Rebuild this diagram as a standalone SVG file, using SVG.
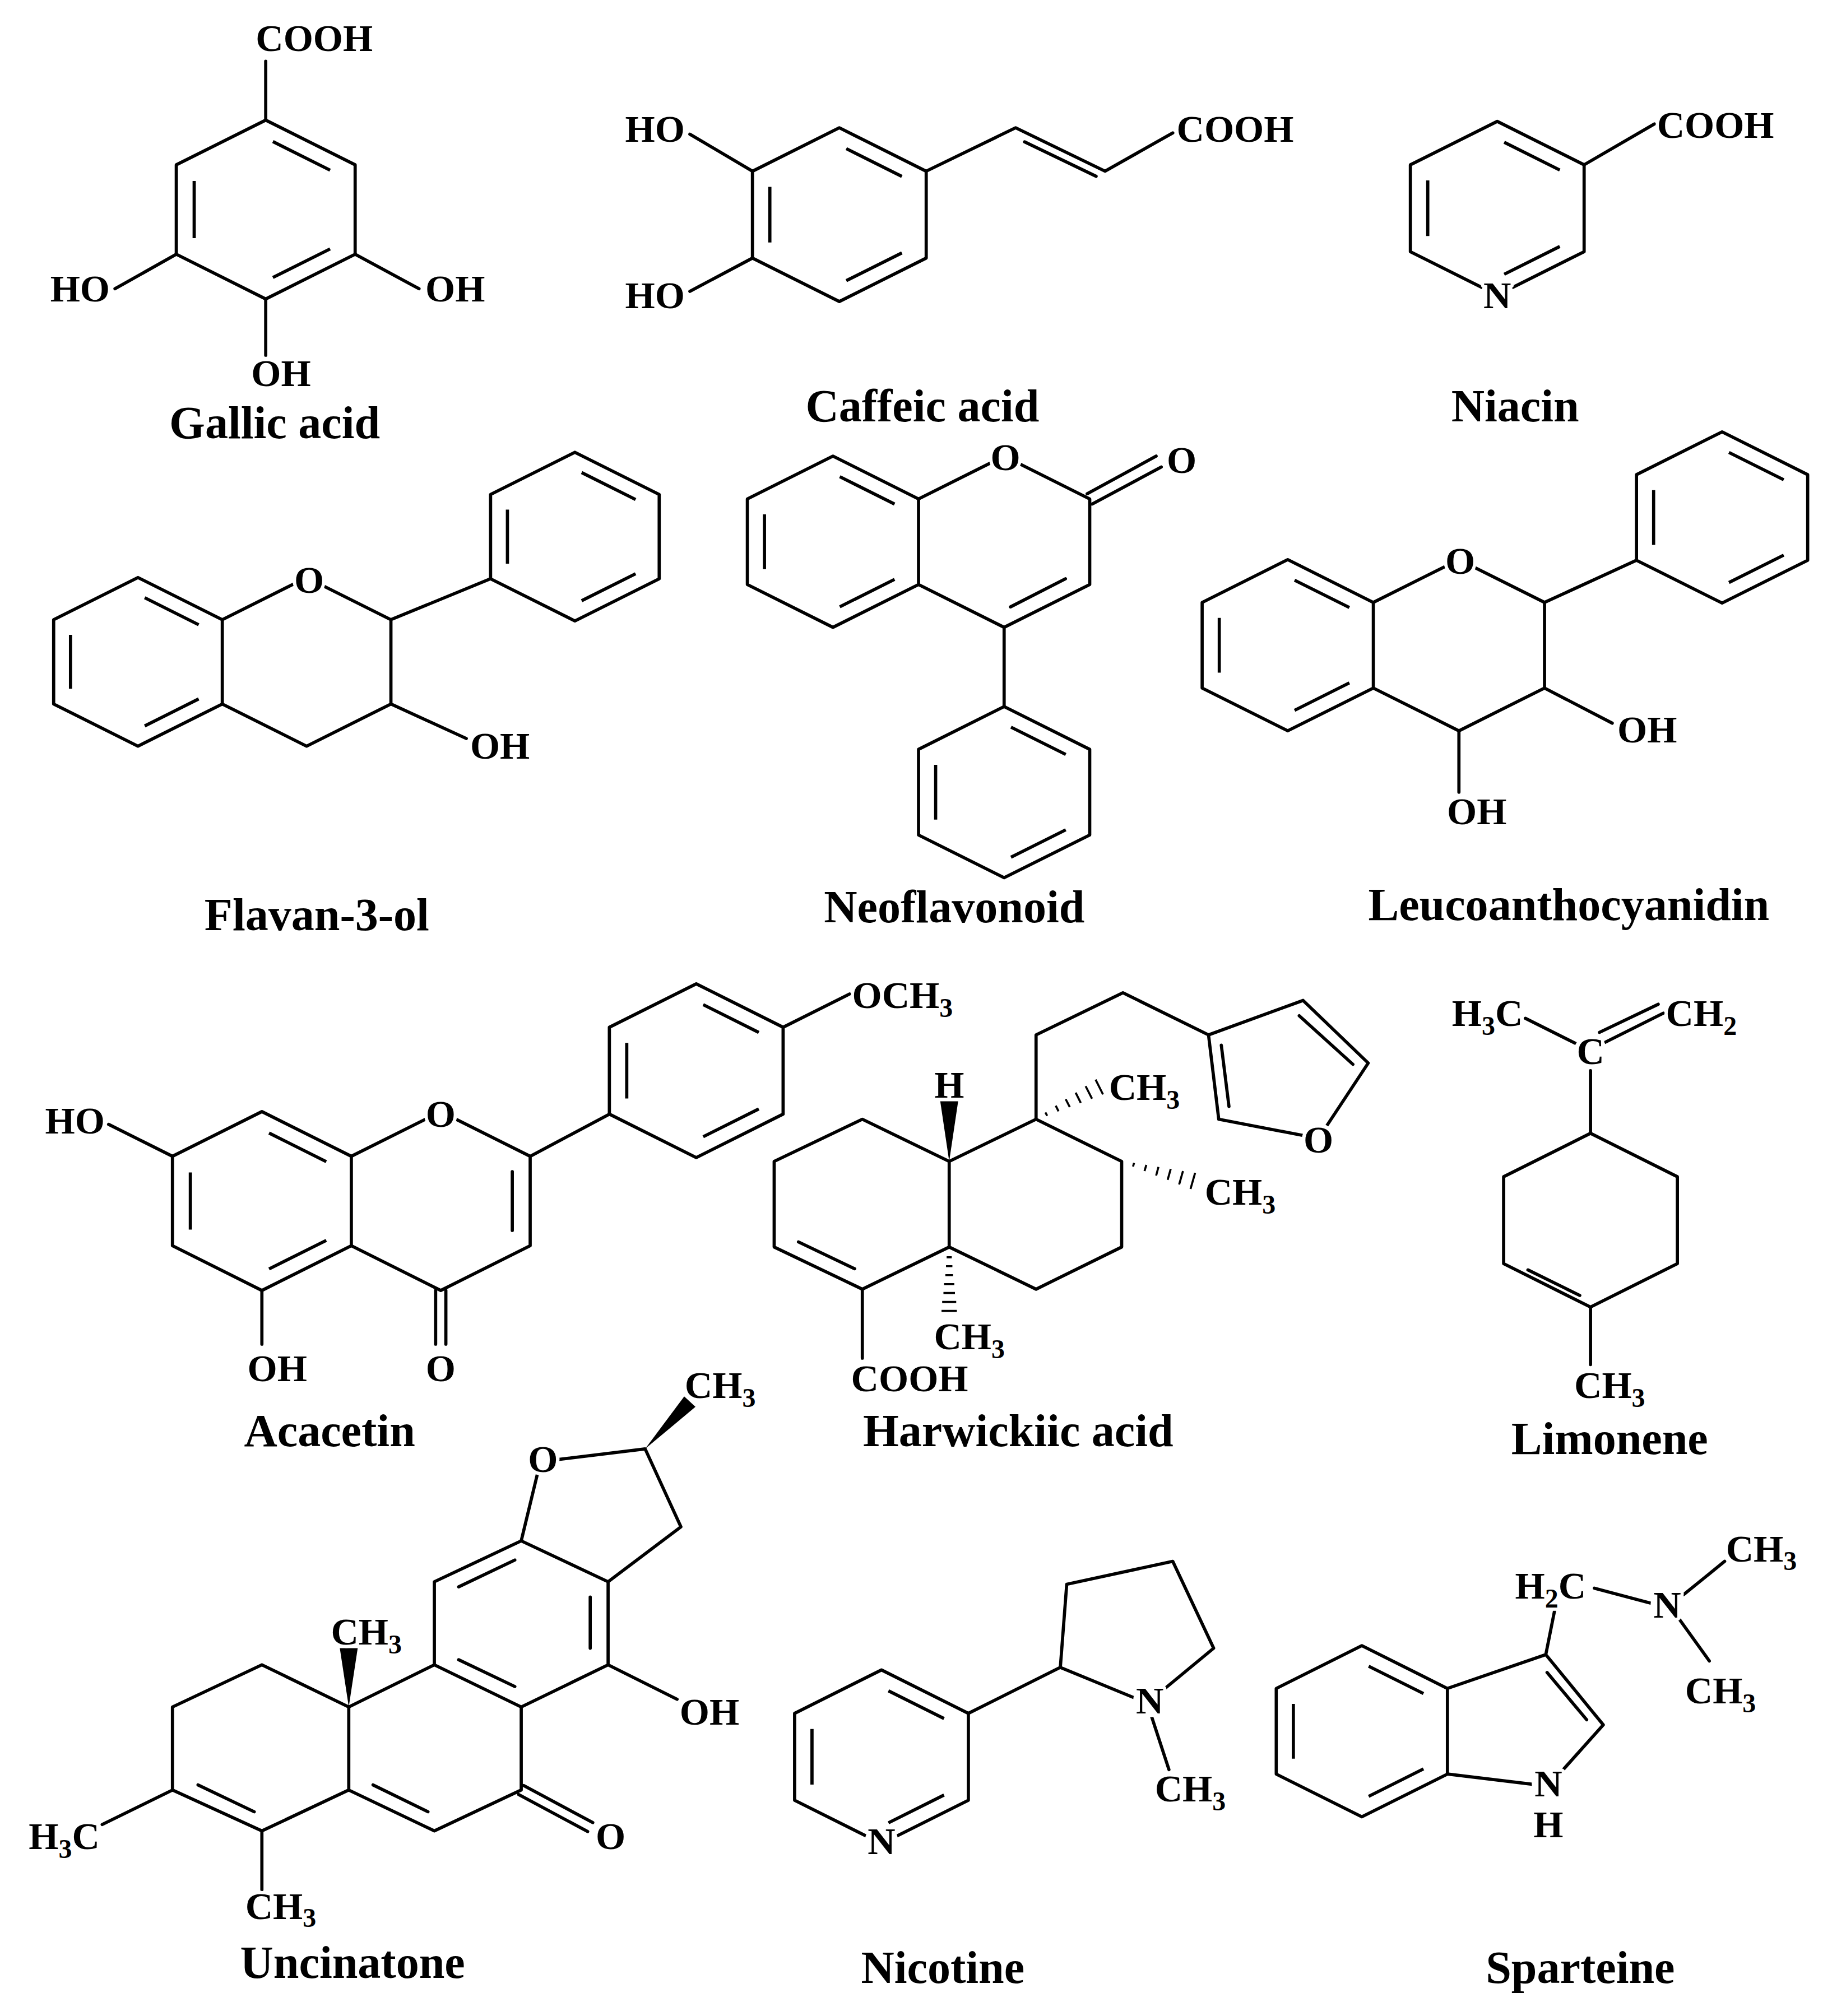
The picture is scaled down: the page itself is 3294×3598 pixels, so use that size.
<svg xmlns="http://www.w3.org/2000/svg" xmlns:xlink="http://www.w3.org/1999/xlink" width="3294" height="3598" viewBox="0 0 3294 3598">
<style>
.b{fill:none;stroke:#000;stroke-width:2.5;stroke-linecap:round;stroke-linejoin:round}
.r{fill:none;stroke:#000;stroke-linejoin:round}
.w{fill:#000;stroke:none}
.h{stroke:#000;stroke-width:1.6}
.k{fill:#fff;stroke:none}
text{font-family:"Liberation Serif","Times New Roman",serif;font-weight:bold;fill:#000}
.t{font-size:30px;stroke:#fff;stroke-width:5px;paint-order:stroke;stroke-linejoin:round}
.n{font-size:36px}
.s{font-size:21px}
.m{text-anchor:middle}
.e{text-anchor:end}
</style>
<defs>
<path id="H" d="M0,-1L1,-.5L1,.5L0,1L-1,.5L-1,-.5Z"/>
<path id="A" d="M.08,-.76L.72,-.44M.72,.44L.08,.76M-.8,.32L-.8,-.32"/>
</defs>
<rect width="3294" height="3598" fill="#fff"/>
<g transform="scale(2.2796,2.2803)">
<g id="gallic">
<use href="#H" class="r" transform="translate(208,164) scale(70)" stroke-width="0.036"/>
<use href="#A" class="r" transform="translate(208,164) scale(70)" stroke-width="0.036"/>
<path class="b" d="M208,94L208,48M138,199L90,226M278,199L328,226M208,234L208,278"/>
<text class="t m" x="246" y="40">COOH</text>
<text class="t e" x="86" y="236">HO</text>
<text class="t" x="333" y="236">OH</text>
<text class="t m" x="220" y="302">OH</text>
<text class="n m" x="215" y="343">Gallic acid</text>
</g>
<g id="caffeic">
<use href="#H" class="r" transform="translate(657,168) scale(68)" stroke-width="0.037"/>
<use href="#A" class="r" transform="translate(657,168) scale(68)" stroke-width="0.037"/>
<path class="b" d="M589,134L540,105M589,202L540,228M725,134L795,100L865,134L918,104M802,111L858,138"/>
<text class="t e" x="536" y="111">HO</text>
<text class="t e" x="536" y="241">HO</text>
<text class="t" x="921" y="111">COOH</text>
<text class="n m" x="722" y="330">Caffeic acid</text>
</g>
<g id="niacin">
<use href="#H" class="r" transform="translate(1172,163) scale(68)" stroke-width="0.037"/>
<use href="#A" class="r" transform="translate(1172,163) scale(68)" stroke-width="0.037"/>
<path class="b" d="M1240,129L1295,97"/>
<circle class="k" cx="1172" cy="231" r="13"/>
<text class="t m" x="1172" y="241">N</text>
<text class="t" x="1297" y="108">COOH</text>
<text class="n m" x="1186" y="330">Niacin</text>
</g>
<g id="flavan">
<use href="#H" class="r" transform="translate(108,518) scale(66)" stroke-width="0.038"/>
<use href="#A" class="r" transform="translate(108,518) scale(66)" stroke-width="0.038"/>
<use href="#H" class="r" transform="translate(450,420) scale(66)" stroke-width="0.038"/>
<use href="#A" class="r" transform="translate(450,420) scale(66)" stroke-width="0.038"/>
<path class="b" d="M174,485L240,452L306,485L306,551L240,584L174,551M306,485L384,453M306,551L365,578"/>
<circle class="k" cx="242" cy="454" r="13"/>
<text class="t m" x="242" y="464">O</text>
<text class="t" x="368" y="594">OH</text>
<text class="n m" x="248" y="728">Flavan-3-ol</text>
</g>
<g id="neoflavonoid">
<use href="#H" class="r" transform="translate(652,424) scale(67)" stroke-width="0.037"/>
<use href="#A" class="r" transform="translate(652,424) scale(67)" stroke-width="0.037"/>
<use href="#H" class="r" transform="translate(786,620) scale(67)" stroke-width="0.037"/>
<use href="#A" class="r" transform="translate(786,620) scale(67)" stroke-width="0.037"/>
<path class="b" d="M719,390.5L786,357L853,390.5L853,457.5L786,491L719,457.5M834,453L791,475M786,491L786,553M851,386.5L905,357M855,394.5L909,365.5"/>
<circle class="k" cx="787" cy="358" r="13"/>
<text class="t m" x="787" y="368">O</text>
<text class="t m" x="925" y="370">O</text>
<text class="n m" x="747" y="722">Neoflavonoid</text>
</g>
<g id="leucoanthocyanidin">
<use href="#H" class="r" transform="translate(1008,505) scale(67)" stroke-width="0.037"/>
<use href="#A" class="r" transform="translate(1008,505) scale(67)" stroke-width="0.037"/>
<use href="#H" class="r" transform="translate(1348,405) scale(67)" stroke-width="0.037"/>
<use href="#A" class="r" transform="translate(1348,405) scale(67)" stroke-width="0.037"/>
<path class="b" d="M1075,471.5L1142,438L1209,471.5L1209,538.5L1142,572L1075,538.5M1209,471.5L1281,438.5M1209,538.5L1262,566M1142,572L1142,620"/>
<circle class="k" cx="1143" cy="439" r="13"/>
<text class="t m" x="1143" y="449">O</text>
<text class="t" x="1266" y="581">OH</text>
<text class="t m" x="1156" y="645">OH</text>
<text class="n m" x="1228" y="720">Leucoanthocyanidin</text>
</g>
<g id="acacetin">
<use href="#H" class="r" transform="translate(205,940) scale(70)" stroke-width="0.036"/>
<use href="#A" class="r" transform="translate(205,940) scale(70)" stroke-width="0.036"/>
<use href="#H" class="r" transform="translate(545,838) scale(68)" stroke-width="0.037"/>
<use href="#A" class="r" transform="translate(545,838) scale(68)" stroke-width="0.037"/>
<path class="b" d="M275,905L345,870L415,905L415,975L345,1010L275,975M401,917L401,963M341,1010L341,1052M349,1010L349,1052M205,1010L205,1052M135,905L85,880M415,905L477,872M613,804L665,778"/>
<circle class="k" cx="345" cy="872" r="13"/>
<text class="t m" x="345" y="882">O</text>
<text class="t m" x="345" y="1081">O</text>
<text class="t m" x="217" y="1081">OH</text>
<text class="t e" x="82" y="887">HO</text>
<text class="t" x="667" y="789">OCH<tspan class="s" dy="7">3</tspan></text>
<text class="n m" x="258" y="1132">Acacetin</text>
</g>
<g id="harwickiic">
<path class="b" d="M675,876L606,909L606,976L675,1009L743,976L743,909Z M743,909L811,876L878,909L878,976L811,1009L743,976 M625,972L669,993 M675,1009L675,1063 M811,876L811,810L879,777L946,810 M946,810L1020,783L1071,832L1032,891L954,876Z M956,818L962,866 M1017,795L1059,833"/>
<polygon class="w" points="743,909 736,862 750,862"/>
<path class="h" d="M741,984L745,984M740.5,991L745.5,991M740,998L746,998M739,1005L747,1005M738.5,1012L747.5,1012M737.5,1019L748.5,1019M737,1026L749,1026"/>
<path class="h" d="M818.3,870.7L819.7,873.3M826.4,865.4L828.6,869.8M834.2,860.3L837.4,866.5M842,855.2L846,863.2M849.8,850.1L854.8,859.9M857.6,845L863.4,856.6"/>
<path class="h" d="M887.7,910.2L886.9,913M897.3,911.7L895.9,916.5M906.8,913.3L905,920.1M916.4,914.9L914,923.5M926,916.5L923,927.1M935.5,918L931.9,930.6"/>
<text class="t m" x="743" y="859">H</text>
<text class="t" x="731" y="1056">CH<tspan class="s" dy="7">3</tspan></text>
<text class="t" x="868" y="861">CH<tspan class="s" dy="7">3</tspan></text>
<text class="t" x="943" y="943">CH<tspan class="s" dy="7">3</tspan></text>
<circle class="k" cx="1032" cy="892" r="13"/>
<text class="t m" x="1032" y="902">O</text>
<text class="t m" x="712" y="1089">COOH</text>
<text class="n m" x="797" y="1132">Harwickiic acid</text>
</g>
<g id="limonene">
<use href="#H" class="r" transform="translate(1245,955) scale(68)" stroke-width="0.037"/>
<path class="b" d="M1236.6,1013.9L1196,993.9M1245,838L1245,887M1194,797L1236,818M1256,816L1302,793M1252,808L1298,786M1245,1023L1245,1068"/>
<circle class="k" cx="1245" cy="823" r="13"/>
<text class="t m" x="1245" y="833">C</text>
<text class="t e" x="1192" y="803">H<tspan class="s" dy="7">3</tspan><tspan dy="-7">C</tspan></text>
<text class="t" x="1304" y="803">CH<tspan class="s" dy="7">2</tspan></text>
<text class="t m" x="1260" y="1094">CH<tspan class="s" dy="7">3</tspan></text>
<text class="n m" x="1260" y="1138">Limonene</text>
</g>
<g id="uncinatone">
<path class="b" d="M408,1206L476,1238L476,1303L408,1336L340,1303L340,1238Z M408,1206L423,1144L505,1134L533,1195L476,1238 M408,1336L408,1401L340,1433L273,1401L273,1336L340,1303 M273,1336L205,1303L135,1336L135,1401L205,1433L273,1401 M359,1242L403,1221 M462,1250L462,1290 M403,1320L359,1299 M335,1418L292,1397 M155,1397L199,1418 M410,1397.5L464,1426.5 M406,1404.5L460,1433.5 M476,1303L530,1330 M135,1401L80,1428 M205,1433L205,1479"/>
<polygon class="w" points="273,1336 266,1290 280,1290"/>
<polygon class="w" points="505,1134 544.4,1101.1 535.6,1092.9"/>
<circle class="k" cx="425" cy="1142" r="13"/>
<text class="t m" x="425" y="1152">O</text>
<text class="t" x="536" y="1094">CH<tspan class="s" dy="7">3</tspan></text>
<text class="t" x="259" y="1287">CH<tspan class="s" dy="7">3</tspan></text>
<text class="t" x="532" y="1350">OH</text>
<text class="t m" x="478" y="1447">O</text>
<text class="t e" x="78" y="1447">H<tspan class="s" dy="7">3</tspan><tspan dy="-7">C</tspan></text>
<text class="t" x="192" y="1502">CH<tspan class="s" dy="6">3</tspan></text>
<text class="n m" x="276" y="1548">Uncinatone</text>
</g>
<g id="nicotine">
<use href="#H" class="r" transform="translate(690,1375) scale(68)" stroke-width="0.037"/>
<use href="#A" class="r" transform="translate(690,1375) scale(68)" stroke-width="0.037"/>
<path class="b" d="M758,1341L830,1305L835,1240L918,1222L950,1290L898,1333L830,1305M898,1333L915,1385"/>
<circle class="k" cx="690" cy="1441" r="13"/>
<text class="t m" x="690" y="1451">N</text>
<circle class="k" cx="900" cy="1331" r="13"/>
<text class="t m" x="900" y="1341">N</text>
<text class="t" x="904" y="1410">CH<tspan class="s" dy="7">3</tspan></text>
<text class="n m" x="738" y="1552">Nicotine</text>
</g>
<g id="sparteine">
<use href="#H" class="r" transform="translate(1066,1355) scale(67)" stroke-width="0.037"/>
<use href="#A" class="r" transform="translate(1066,1355) scale(67)" stroke-width="0.037"/>
<path class="b" d="M1133,1321.5L1210,1295L1255,1350L1212,1398L1133,1388.5M1211,1309L1242,1346M1210,1295L1218,1255M1248,1243L1293,1255M1318,1248L1350,1222M1315,1268L1338,1300"/>
<circle class="k" cx="1212" cy="1396" r="13"/>
<text class="t m" x="1212" y="1406">N</text>
<text class="t m" x="1212" y="1438">H</text>
<text class="t" x="1186" y="1251">H<tspan class="s" dy="7">2</tspan><tspan dy="-7">C</tspan></text>
<circle class="k" cx="1305" cy="1256" r="13"/>
<text class="t m" x="1305" y="1266">N</text>
<text class="t" x="1351" y="1222">CH<tspan class="s" dy="7">3</tspan></text>
<text class="t" x="1319" y="1333">CH<tspan class="s" dy="7">3</tspan></text>
<text class="n m" x="1237" y="1552">Sparteine</text>
</g>
</g>
</svg>
